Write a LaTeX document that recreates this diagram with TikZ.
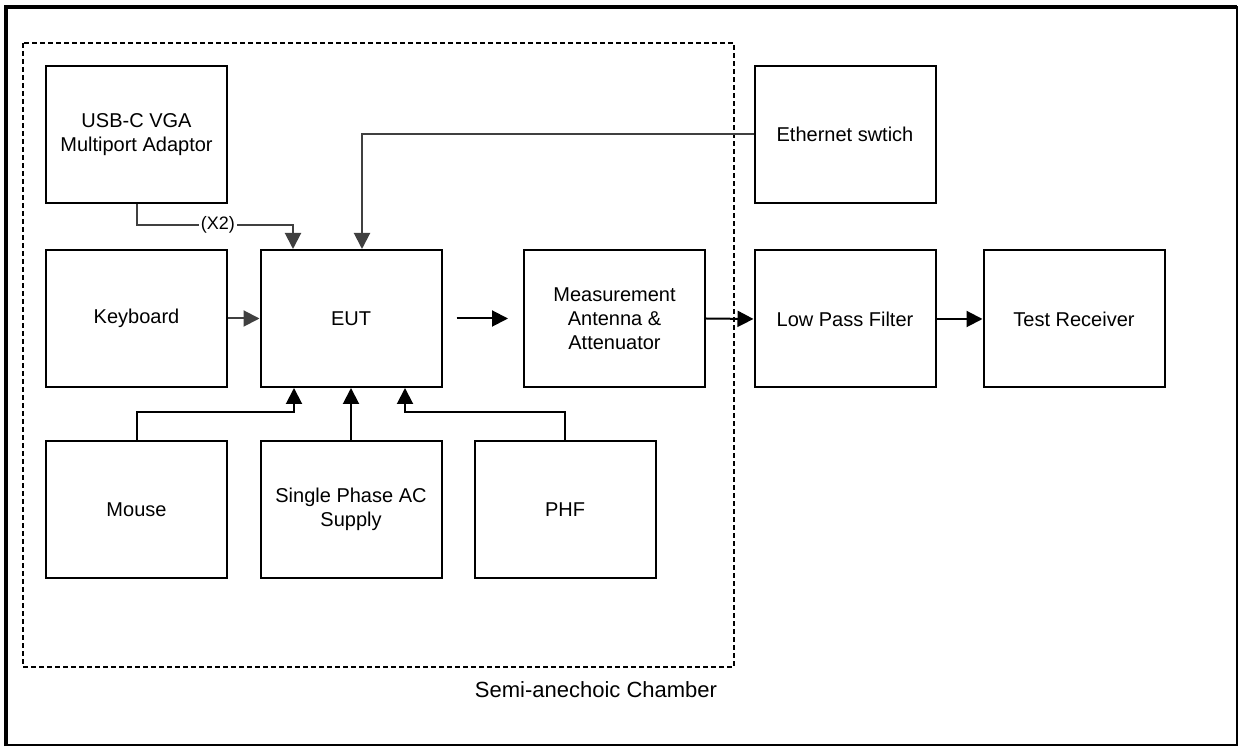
\documentclass[tikz,border=0pt]{standalone}
\usepackage{fontspec}
\setmainfont{Liberation Sans}
\usetikzlibrary{calc,arrows.meta,positioning}
\definecolor{cable}{HTML}{404040}

\begin{document}
\begin{tikzpicture}[x=0.5pt,y=-0.5pt,>={Triangle[length=8pt,width=8pt]},
    unit/.style={draw,line width=1pt,minimum width=90.5pt,minimum height=68.5pt,
      align=center,font=\fontsize{10}{12}\selectfont},
    feed/.style={->,line width=1pt},
    lead/.style={->,cable,line width=1pt},
    tag/.style={fill=white,text=black,inner sep=1pt,font=\fontsize{9}{10}\selectfont}]
  \useasboundingbox (0,0) rectangle (1241,747);
  % frame and chamber
  \draw[line width=1pt] (6,7) rectangle (1237,745);
  \draw[line width=2pt] (6,746) -- (6,7) -- (1237,7);
  \draw[line width=1pt,dash pattern=on 2.5pt off 1.5pt] (23,43) rectangle (734,667);
  \node[font=\fontsize{11}{13}\selectfont] (chamber) at (596,690) {Semi-anechoic Chamber};
  % units
  \node[unit] (usb)   at (136.5,134.5) {USB-C VGA\\Multiport Adaptor};
  \node[unit] (kbd)   at (136.5,318.5) {Keyboard};
  \node[unit] (eut)   at (351,318.5)   {EUT};
  \node[unit] (meas)  at (614.5,318.5) {Measurement\\Antenna \&\\Attenuator};
  \node[unit] (eth)   at (845,134.5)   {Ethernet swtich};
  \node[unit] (lpf)   at (845,319)     {Low Pass Filter};
  \node[unit] (rx)    at (1074,319)    {Test Receiver};
  \node[unit] (mouse) at (136.5,509.5) {Mouse};
  \node[unit] (ac)    at (351,509.5)   {Single Phase AC\\Supply};
  \node[unit] (phf)   at (565,509.5)   {PHF};
  % bends
  \coordinate (usbjog)   at (136.5,225);
  \coordinate (usbin)    at ($(eut.north)+(-58,0)$);
  \coordinate (ethin)    at ($(eut.north)+(11,0)$);
  \coordinate (mousejog) at (136.5,412);
  \coordinate (mousein)  at ($(eut.south)+(-57,0)$);
  \coordinate (phfjog)   at (565,412);
  \coordinate (phfin)    at ($(eut.south)+(54,0)$);
  % links
  \draw[lead] (usb.south) -- (usbjog) -| node[pos=0.26,tag]{(X2)} (usbin);
  \draw[lead] (eth.west) -| (ethin);
  \draw[lead] (kbd.east) -- (eut.west);
  \draw[feed,shorten <=7pt,shorten >=7.5pt] (eut.east) -- (meas.west);
  \draw[feed] (meas.east) -- (lpf.west);
  \draw[feed] (lpf.east) -- (rx.west);
  \draw[feed] (mouse.north) -- (mousejog) -| (mousein);
  \draw[feed] (ac.north) -- (eut.south);
  \draw[feed] (phf.north) -- (phfjog) -| (phfin);
\end{tikzpicture}
\end{document}
